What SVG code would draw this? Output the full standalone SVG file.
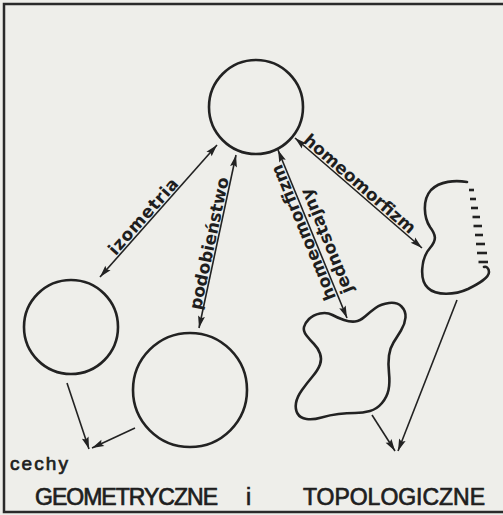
<svg xmlns="http://www.w3.org/2000/svg" width="503" height="515" viewBox="0 0 503 515">
<style>
.bg{fill:#eeeeea}
.frame{fill:none;stroke:#2a2a2a;stroke-width:2.5}
.shape{fill:none;stroke:#222;stroke-width:2.6;stroke-linecap:round;stroke-linejoin:round}
.dash{stroke:#222;stroke-width:2.6;stroke-linecap:butt}
.con{fill:none;stroke:#222;stroke-width:1.6}
.lbl{font-family:"DejaVu Sans",sans-serif;font-size:17px;font-weight:bold;fill:#1e1e1e;text-anchor:middle}
.cap{font-family:"Liberation Sans",Arial,sans-serif;fill:#1e1e1e;stroke:#1e1e1e;stroke-width:0.7}
</style>
<defs>
<marker id="ah" viewBox="-1 -4 14 8" refX="12" refY="0" markerWidth="14" markerHeight="8" markerUnits="userSpaceOnUse" orient="auto-start-reverse">
<path d="M0,-3.5 L12,0 L0,3.5 L2,0 z" fill="#222"/>
</marker>
</defs>
<rect class="bg" x="0" y="0" width="503" height="515"/>
<path class="frame" d="M503,4 H4 V512 H503"/>

<g id="circle-top"><circle class="shape" cx="256" cy="107" r="47"/></g>
<g id="circle-left"><circle class="shape" cx="71" cy="327" r="47"/></g>
<g id="circle-middle"><circle class="shape" cx="190" cy="390" r="57"/></g>
<g id="blob">
<path class="shape" d="M304,327 Q305,323 309,319 Q313,315 320,313.5 Q327,312 332.5,315 Q338,318 344,320 Q350,322 355,321.5 Q360,321 365,316.5 Q370,312 375.5,308 Q381,304 389,303 Q397,302 401.5,306.5 Q406,311 405.5,317.5 Q405,324 401,330.5 Q397,337 393.5,342.5 Q390,348 389,355.5 Q388,363 389,373 Q390,383 388.5,390 Q387,397 382,403 Q377,409 370,411 Q363,413 355,413 Q347,413 338.5,414 Q330,415 321.5,417.5 Q313,420 306.5,419 Q300,418 297.5,413.5 Q295,409 296,403 Q297,397 302,390 Q307,383 312.5,376.5 Q318,370 320,364.5 Q322,359 320,353.5 Q318,348 314,344 Q310,340 306.5,335.5 Q303,331 304,327 Z"/>
</g>
<g id="open-shape">
<path class="shape" d="M467,182 C455,180 440,181 431,190 C422,200 424,218 430,227 C436,235 437,240 430,248 C421,258 419,280 428,288 C436,296 455,295 468,289 C478,284 489,278 489,272 C489,268 486,266 484,267"/>
<g class="dash">
<line x1="469" y1="190" x2="474" y2="190"/>
<line x1="470" y1="199" x2="476" y2="199"/>
<line x1="471" y1="208" x2="478" y2="208"/>
<line x1="472.5" y1="217" x2="480" y2="217"/>
<line x1="473.5" y1="226" x2="482" y2="226"/>
<line x1="475" y1="235" x2="483" y2="235"/>
<line x1="476" y1="244" x2="485" y2="244"/>
<line x1="477" y1="253" x2="487" y2="253"/>
<line x1="478.5" y1="262" x2="488" y2="262"/>
</g>
</g>

<g id="connectors">
<line class="con" x1="100" y1="277" x2="217" y2="145" marker-start="url(#ah)" marker-end="url(#ah)"/>
<line class="con" x1="236" y1="155" x2="199" y2="328" marker-start="url(#ah)" marker-end="url(#ah)"/>
<line class="con" x1="278" y1="150" x2="347" y2="318" marker-start="url(#ah)" marker-end="url(#ah)"/>
<line class="con" x1="295" y1="138" x2="422" y2="248" marker-start="url(#ah)" marker-end="url(#ah)"/>
<line class="con" x1="67" y1="383" x2="89" y2="449" marker-end="url(#ah)"/>
<line class="con" x1="135" y1="428" x2="92" y2="448" marker-end="url(#ah)"/>
<line class="con" x1="372" y1="415" x2="395" y2="451" marker-end="url(#ah)"/>
<line class="con" x1="457" y1="300" x2="398" y2="451" marker-end="url(#ah)"/>
</g>

<g id="labels">
<text class="lbl" transform="translate(149.1,221.6) rotate(-48.4)" x="0" y="-2" textLength="96">izometria</text>
<text class="lbl" transform="translate(216.8,244.9) rotate(-77.9)" x="0" y="-2" textLength="135">podobieństwo</text>
<text class="lbl" transform="translate(310.7,229.6) rotate(-112.3)" x="0" y="-2" textLength="145">homeomorfizm</text>
<text class="lbl" transform="translate(317,244.9) rotate(-112.3)" x="0" y="16" textLength="112">jednostajny</text>
<text class="lbl" transform="translate(354.7,189.7) rotate(40.9)" x="0" y="-2" textLength="142">homeomorfizm</text>
</g>

<g id="captions">
<text class="cap" x="10" y="470" font-size="19" textLength="58">cechy</text>
<text class="cap" x="35" y="505" font-size="23" textLength="183">GEOMETRYCZNE</text>
<text class="cap" x="246" y="505" font-size="23">i</text>
<text class="cap" x="303" y="505" font-size="23" textLength="182">TOPOLOGICZNE</text>
</g>
</svg>
